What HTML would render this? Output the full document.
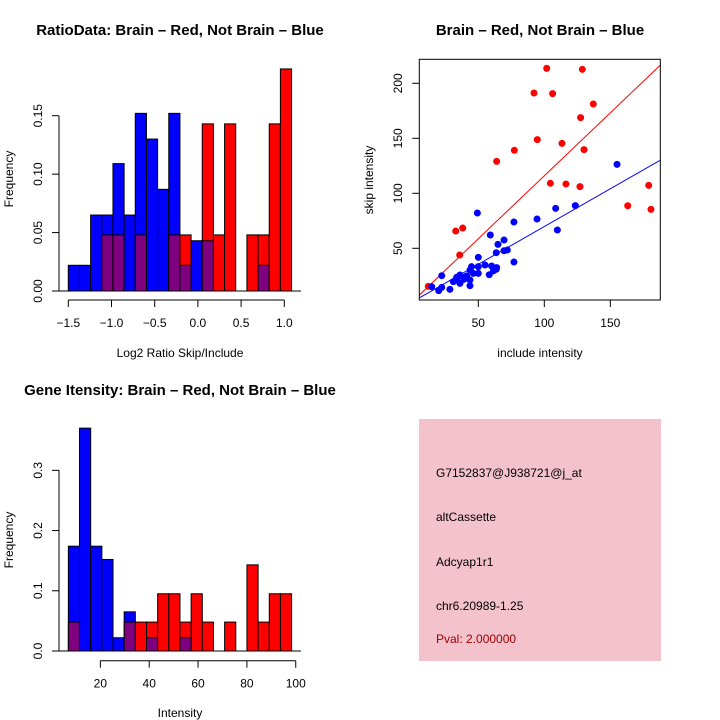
<!DOCTYPE html>
<html><head><meta charset="utf-8"><style>
html,body{margin:0;padding:0;background:#fff;}
svg{display:block;font-family:"Liberation Sans",sans-serif;}
</style></head><body>
<svg id="s" width="720" height="720" viewBox="0 0 720 720">
<rect width="720" height="720" fill="#fff"/>
<text x="180" y="35" text-anchor="middle" font-size="15" font-weight="bold">RatioData: Brain – Red, Not Brain – Blue</text>
<text x="180" y="357" text-anchor="middle" font-size="12">Log2 Ratio Skip/Include</text>
<text transform="translate(13,179) rotate(-90)" text-anchor="middle" font-size="12">Frequency</text>
<text x="540" y="35" text-anchor="middle" font-size="15" font-weight="bold">Brain – Red, Not Brain – Blue</text>
<text x="540" y="357" text-anchor="middle" font-size="12">include intensity</text>
<text transform="translate(373,180) rotate(-90)" text-anchor="middle" font-size="12">skip intensity</text>
<text x="180" y="395" text-anchor="middle" font-size="15" font-weight="bold">Gene Itensity: Brain – Red, Not Brain – Blue</text>
<text x="180" y="717" text-anchor="middle" font-size="12">Intensity</text>
<text transform="translate(13,540) rotate(-90)" text-anchor="middle" font-size="12">Frequency</text>
<g>
<rect x="419" y="419" width="242" height="242" fill="#f4c2cc"/>
<text x="436" y="477" font-size="12">G7152837@J938721@j_at</text>
<text x="436" y="521" font-size="12">altCassette</text>
<text x="436" y="566" font-size="12">Adcyap1r1</text>
<text x="436" y="610" font-size="12">chr6.20989-1.25</text>
<text x="436" y="643" font-size="12" fill="#a00000">Pval: 2.000000</text>
</g>
<g id="g1"></g><g id="g2"></g><g id="g3"></g>
</svg>
<script>
// Ratio histogram data (20 bins from -1.5, width 0.1292)
const ratioBlue=[0.022,0.022,0.065,0.065,0.109,0.065,0.152,0.130,0.087,0.152,0.022,0.043,0.043,0,0,0,0,0.022,0,0];
const ratioRed=[0,0,0,0.048,0.048,0,0.048,0,0,0.048,0.048,0,0.143,0.048,0.143,0,0.048,0.048,0.143,0.190];
const ratioXTicks=[-1.5,-1.0,-0.5,0.0,0.5,1.0];
const ratioXLabels=["−1.5","−1.0","−0.5","0.0","0.5","1.0"];
const ratioYTicks=[0,0.05,0.10,0.15];
const ratioYLabels=["0.00","0.05","0.10","0.15"];
// Intensity histogram data (20 bins from 6.9, width 4.57)
const intBlue=[0.174,0.370,0.174,0.152,0.022,0.065,0,0.022,0,0,0.022,0,0,0,0,0,0,0,0,0];
const intRed=[0.048,0,0,0,0,0.048,0.048,0.048,0.095,0.095,0.048,0.095,0.048,0,0.048,0,0.143,0.048,0.095,0.095];
const intXTicks=[20,40,60,80,100];
const intYTicks=[0,0.1,0.2,0.3];
const intYLabels=["0.0","0.1","0.2","0.3"];
// Scatter data
const redX=[101.8,128.8,92.2,106.3,137.1,127.5,94.7,113.4,130.1,77.3,63.9,104.6,116.4,127.0,179.1,163.2,180.8,38.2,32.9,35.9,12.1];
const redY=[213.6,212.7,191.2,190.6,181.2,168.8,148.8,145.4,139.7,139.1,129.0,109.1,108.5,106.1,107.2,88.7,85.4,68.4,65.7,43.9,15.4];
const blueX=[155.1,49.3,108.6,123.5,94.5,77.0,59.1,109.9,69.5,64.9,63.6,69.5,72.0,50.0,77.0,55.1,60.1,63.6,58.3,61.4,63.9,44.9,43.7,41.2,46.2,50.0,22.3,36.1,38.6,33.6,31.1,36.1,43.7,28.5,20.0,14.7,22.3,43.7,39.1,33.6,50.0];
const blueY=[126.3,82.1,86.3,88.8,76.6,73.9,62.1,66.6,57.5,53.6,46.0,47.8,48.5,41.8,37.5,34.8,33.9,30.9,26.0,29.4,32.4,33.3,30.3,24.8,27.2,27.2,25.1,25.7,23.6,23.6,19.7,18.1,16.0,12.7,11.5,15.1,14.5,21.2,21.8,21.2,33.3];
const redFit=[1.4,1.145];
const blueFit=[1.2,0.686];
const scXTicks=[50,100,150];
const scYTicks=[50,100,150,200];

const NS="http://www.w3.org/2000/svg";
function el(p,tag,a){const e=document.createElementNS(NS,tag);for(const k in a)e.setAttribute(k,a[k]);p.appendChild(e);return e;}
function txt(p,x,y,s,rot){const t=el(p,'text',{x:x,y:y,'text-anchor':'middle','font-size':12});if(rot)t.setAttribute('transform','rotate(-90 '+x+' '+y+')');t.textContent=s;return t;}

function hist(g,name,blue,red,lo,w,xs,ys,xTicks,xLabels,yTicks,yLabels,yMax,xAxisY,baseY){
  for(let i=0;i<blue.length;i++){
    const x0=xs(lo+i*w),x1=xs(lo+(i+1)*w);
    const b=blue[i],r=red[i];
    const mx=Math.max(b,r),mn=Math.min(b,r);
    if(mx>0){
      const e=el(g,'rect',{x:x0,y:ys(mx),width:x1-x0,height:ys(0)-ys(mx),fill:b>=r?'#0000ff':'#ff0000',stroke:'#000','stroke-width':1});
      
      
    }
    if(mn>0){
      const e=el(g,'rect',{x:x0,y:ys(mn),width:x1-x0,height:ys(0)-ys(mn),fill:'#7f007f',stroke:'#000','stroke-width':1});
      
      
    }
  }
  el(g,'line',{x1:59,x2:301,y1:baseY,y2:baseY,stroke:'#000'});
  const xa=el(g,'g',{});
  
  
  el(xa,'line',{x1:xs(xTicks[0]),x2:xs(xTicks[xTicks.length-1]),y1:xAxisY,y2:xAxisY,stroke:'#000'});
  xTicks.forEach((v,i)=>{el(xa,'line',{x1:xs(v),x2:xs(v),y1:xAxisY,y2:xAxisY+7,stroke:'#000'});txt(xa,xs(v),xAxisY+27,xLabels[i]);});
  const ya=el(g,'g',{});
  
  
  el(ya,'line',{x1:59,x2:59,y1:ys(yTicks[0]),y2:ys(yTicks[yTicks.length-1]),stroke:'#000'});
  yTicks.forEach((v,i)=>{el(ya,'line',{x1:52,x2:59,y1:ys(v),y2:ys(v),stroke:'#000'});txt(ya,42,ys(v),yLabels[i],true);});
}

(function(){
  const g=document.getElementById('g1');
  
  
  const xs=v=>68.3+(v+1.5)*86.4, ys=v=>291-v*1168.7;
  hist(g,'ratio',ratioBlue,ratioRed,-1.5,0.1292,xs,ys,ratioXTicks,ratioXLabels,ratioYTicks,ratioYLabels,0.19,300,291);
})();
(function(){
  const g=document.getElementById('g3');
  
  
  const xs=v=>51.5+v*2.4425, ys=v=>651-v*602.3;
  hist(g,'intensity',intBlue,intRed,6.9,4.57,xs,ys,intXTicks,intXTicks.map(String),intYTicks,intYLabels,0.37,660.7,651);
})();
(function(){
  const g=document.getElementById('g2');
  
  
  const xs=v=>412.3+v*1.32, ys=v=>303.3-v*1.1;
  const L=419.3,R=660.3,T=59.3,B=300;
  const xmin=(L-412.3)/1.32,xmax=(R-412.3)/1.32;
  const cp=el(g,'clipPath',{id:'cp'});el(cp,'rect',{x:L,y:T,width:R-L,height:B-T});
  const lg=el(g,'g',{'clip-path':'url(#cp)'});
  const rl=el(lg,'line',{x1:xs(xmin),y1:ys(redFit[0]+redFit[1]*xmin),x2:xs(xmax),y2:ys(redFit[0]+redFit[1]*xmax),stroke:'#ff0000','stroke-width':1});
  
  
  const bl=el(lg,'line',{x1:xs(xmin),y1:ys(blueFit[0]+blueFit[1]*xmin),x2:xs(xmax),y2:ys(blueFit[0]+blueFit[1]*xmax),stroke:'#0000ff','stroke-width':1});
  
  
  redX.forEach((x,i)=>{const c=el(g,'circle',{cx:xs(x),cy:ys(redY[i]),r:3.5,fill:'#ff0000'});
    
    });
  blueX.forEach((x,i)=>{const c=el(g,'circle',{cx:xs(x),cy:ys(blueY[i]),r:3.5,fill:'#0000ff'});
    
    });
  const box=el(g,'rect',{x:L,y:T,width:R-L,height:B-T,fill:'none',stroke:'#000'});
  
  
  const xa=el(g,'g',{});
  
  
  scXTicks.forEach(v=>{el(xa,'line',{x1:xs(v),x2:xs(v),y1:B,y2:B+7,stroke:'#000'});txt(xa,xs(v),B+27,String(v));});
  const ya=el(g,'g',{});
  
  
  scYTicks.forEach(v=>{el(ya,'line',{x1:L-7,x2:L,y1:ys(v),y2:ys(v),stroke:'#000'});txt(ya,402,ys(v),String(v),true);});
})();
</script>
</body></html>
